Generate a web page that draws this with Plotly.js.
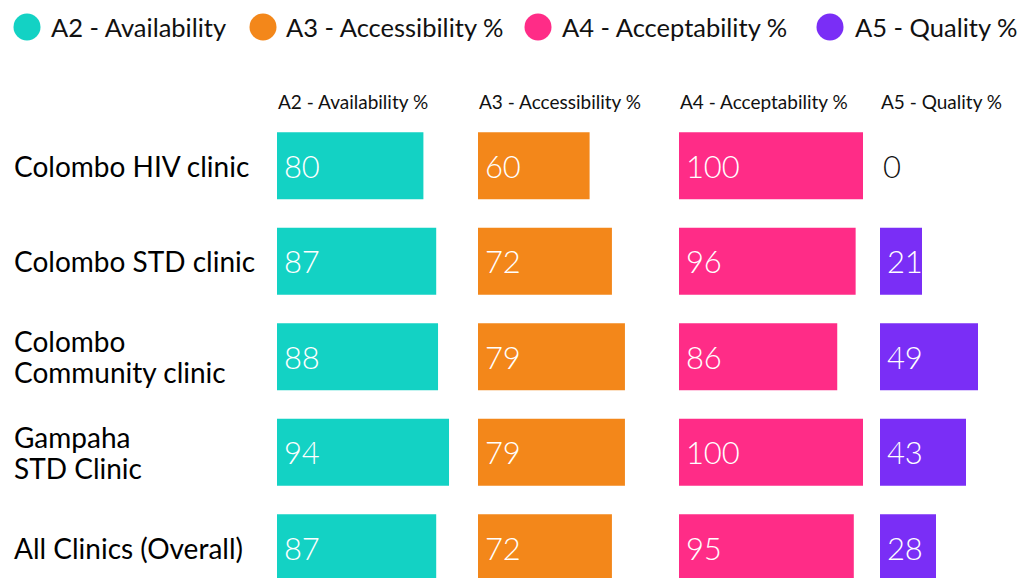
<!DOCTYPE html>
<html>
<head>
<meta charset="utf-8">
<script src="https://cdn.plot.ly/plotly-3.0.1.min.js"></script>
<style>html,body{margin:0;padding:0;background:#fff;}#chart{width:1020px;height:578px;}</style>
</head>
<body>
<div id="chart"></div>
<script>
// ---- data ----
const categories = ['Colombo HIV clinic', 'Colombo STD clinic', 'Colombo<br>Community clinic', 'Gampaha<br>STD Clinic', 'All Clinics (Overall)'];
const seriesNames = ['A2 - Availability %', 'A3 - Accessibility %', 'A4 - Acceptability %', 'A5 - Quality %'];
const legendLabels = ['A2 - Availability', 'A3 - Accessibility %', 'A4 - Acceptability %', 'A5 - Quality %'];
const availability = [80, 87, 88, 94, 87];
const accessibility = [60, 72, 79, 79, 72];
const acceptability = [100, 96, 86, 100, 95];
const quality = [0, 21, 49, 43, 28];
const colors = ['#13D2C4', '#F3871A', '#FF2C87', '#7A2EF6'];

// ---- layout helpers ----
const W = 1020, H = 578, T = 118;
const plotH = H - T;
const px = x => x / W;
const py = y => (H - y) / plotH;
const FONT = 'Lato, "Open Sans", sans-serif';
const pxPerUnit = [1.83, 1.86, 1.84, 2.0];
const colStart = [277, 478, 679, 880];
const colEnd = [478, 679, 880, 1020];

const allSeries = [availability, accessibility, acceptability, quality];
const traces = allSeries.map((vals, i) => ({
  type: 'bar',
  orientation: 'h',
  x: vals,
  y: categories,
  name: seriesNames[i],
  xaxis: i === 0 ? 'x' : 'x' + (i + 1),
  yaxis: 'y',
  width: 0.7,
  marker: {color: colors[i], line: {width: 0}},
  text: vals.map(v => v === 0 ? String(v) : '\u2009' + v),
  textposition: vals.map(v => v === 0 ? 'outside' : 'inside'),
  insidetextanchor: 'start',
  textangle: 0,
  constraintext: 'none',
  cliponaxis: false,
  insidetextfont: {family: FONT, size: 31, color: '#ffffff', weight: 300},
  outsidetextfont: {family: FONT, size: 31, color: '#111111', weight: 300},
  hoverinfo: 'x+y',
  showlegend: false
}));

const layout = {
  width: W, height: H,
  margin: {l: 0, r: 0, t: T, b: 0, pad: 0},
  paper_bgcolor: '#ffffff',
  plot_bgcolor: '#ffffff',
  showlegend: false,
  bargap: 0.3,
  yaxis: {type: 'category', range: [4.317, -0.5], showticklabels: false, showgrid: false, zeroline: false, showline: false, ticks: ''},
  annotations: [],
  shapes: []
};
for (let i = 0; i < 4; i++) {
  const key = i === 0 ? 'xaxis' : 'xaxis' + (i + 1);
  layout[key] = {
    domain: [px(colStart[i]), px(colEnd[i])],
    range: [0, (colEnd[i] - colStart[i]) / pxPerUnit[i]],
    anchor: 'y',
    showticklabels: false, showgrid: false, zeroline: false, showline: false, ticks: '', fixedrange: true
  };
  // column header
  layout.annotations.push({
    text: seriesNames[i], xref: 'paper', yref: 'paper',
    x: px(colStart[i] - 1), y: py(101), xanchor: 'left', yanchor: 'middle',
    showarrow: false, font: {family: FONT, size: 19, color: '#111111'}
  });
  // custom legend: circle + label
  const legendCx = [27, 263, 538, 830][i];
  const legendTx = [49, 284, 560, 853][i];
  layout.shapes.push({
    type: 'circle', xref: 'paper', yref: 'paper', xsizemode: 'pixel', ysizemode: 'pixel',
    xanchor: px(legendCx), yanchor: py(27), x0: -13.5, x1: 13.5, y0: -13.5, y1: 13.5,
    fillcolor: colors[i], line: {width: 0}
  });
  layout.annotations.push({
    text: legendLabels[i], xref: 'paper', yref: 'paper',
    x: px(legendTx), y: py(27), xanchor: 'left', yanchor: 'middle',
    showarrow: false, font: {family: FONT, size: 25.5, color: '#111111'}
  });
}
// row labels (multi-line labels placed line by line for tighter line spacing)
categories.forEach(c => {
  const lines = c.split('<br>');
  const lineH = 31;
  lines.forEach((ln, k) => {
    layout.annotations.push({
      text: ln, xref: 'paper', yref: 'y', x: px(12), y: c,
      yshift: -((k - (lines.length - 1) / 2) * lineH),
      xanchor: 'left', yanchor: 'middle', align: 'left',
      showarrow: false, font: {family: FONT, size: 28, color: '#000000'}
    });
  });
});

Plotly.newPlot('chart', traces, layout, {displayModeBar: false, staticPlot: true});
</script>
</body>
</html>
